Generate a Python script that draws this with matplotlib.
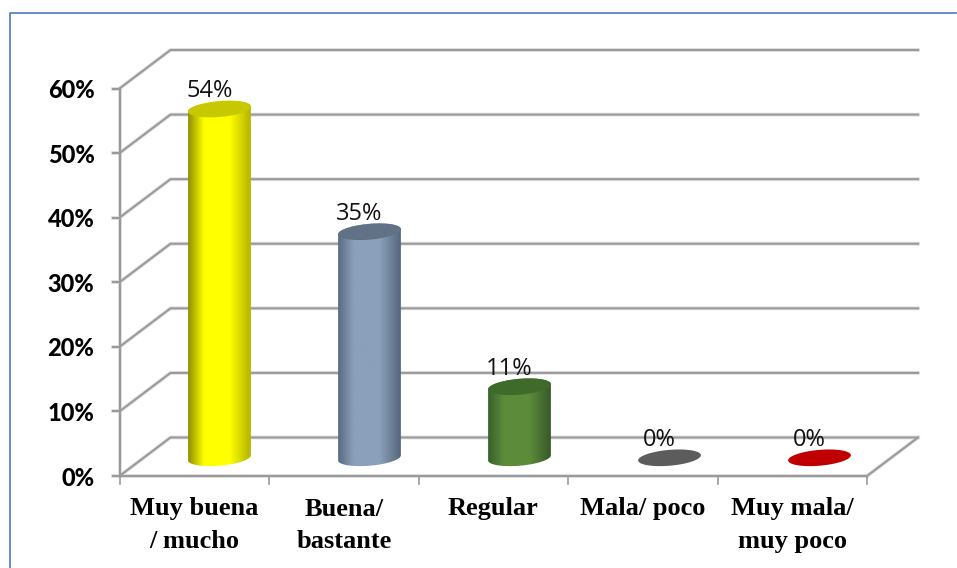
import numpy as np
import matplotlib
matplotlib.use("Agg")
import matplotlib.pyplot as plt
from matplotlib.colors import LinearSegmentedColormap
from matplotlib.lines import Line2D
from matplotlib.patches import Polygon

categories = ["Muy buena\n/ mucho", "Buena/\nbastante", "Regular", "Mala/ poco", "Muy mala/\nmuy poco"]
values = [54, 35, 11, 0, 0]
value_labels = ["54%", "35%", "11%", "0%", "0%"]
y_ticks = [0, 10, 20, 30, 40, 50, 60]
body_colors = [
    ("#8f8f00", "#ffff00", "#b4b400"),
    ("#5a6b80", "#8ba0ba", "#56677c"),
    ("#38602a", "#5c8c3a", "#36592a"),
    ("#505050", "#606060", "#505050"),
    ("#a00000", "#c00000", "#a00000"),
]
top_colors = ["#c8c800", "#627286", "#3f6b2a", "#5c5c5c", "#c00000"]

W, H = 957, 568
GRID = "#9a9a9a"
GRID_SOFT = "#e2e2e2"

fig = plt.figure(figsize=(W / 100, H / 100), dpi=100)
fig.patch.set_facecolor("white")

# The axes cover the front plane of the 3D box: categories across, percent up.
left, right, bottom, top = 119.5, 867.0, 476.0, 88.5
ax = fig.add_axes([left / W, 1 - bottom / H, (right - left) / W, (bottom - top) / H])
ax.set_xlim(0, 5)
ax.set_ylim(0, 60)
ax.axis("off")

px_x = 5 / (right - left)
px_y = 60 / (bottom - top)
depth_x, depth_y = 51 * px_x, 38.5 * px_y


def line(xs, ys):
    # A pale halo under each rule gives the soft edge of the 3D walls
    ax.add_line(Line2D(xs, ys, color=GRID_SOFT, lw=2.8, clip_on=False, zorder=1))
    ax.add_line(Line2D(xs, ys, color=GRID, lw=1.5, clip_on=False, zorder=2,
                       solid_capstyle="projecting"))


# Walls and floor
for t in y_ticks:
    line([0, depth_x, 5 + depth_x], [t, t + depth_y, t + depth_y])
    line([-7 * px_x, 0], [t, t])
line([0, 0], [0, 60])
line([0, 5], [0, 0])
line([5, 5 + depth_x], [0, depth_y])
for i in range(6):
    ax.add_line(Line2D([i, i], [0, -8 * px_y], color=GRID, lw=1.2, clip_on=False, zorder=2))

# Bar cylinders, tilted ellipses at base and top
semi_major, semi_minor, tilt = 31.5, 7.9, np.radians(5)
spacing = 150 * px_x
first_x = 100 * px_x
base_y = 18.2 * px_y


def ellipse(cx, cy, start, stop, n=80):
    t = np.linspace(start, stop, n)
    ex = semi_major * np.cos(t) * np.cos(tilt) - semi_minor * np.sin(t) * np.sin(tilt)
    ey = semi_major * np.cos(t) * np.sin(tilt) + semi_minor * np.sin(t) * np.cos(tilt)
    return cx + ex * px_x, cy + ey * px_y


for i, (v, label) in enumerate(zip(values, value_labels)):
    cx = first_x + i * spacing
    h = base_y + v
    if v > 0:
        # Body outline: the top arc is hidden under the cap, the front follows the base ellipse
        bx, by = ellipse(cx, base_y, np.pi, 2 * np.pi)
        tx, ty = ellipse(cx, h, 0, np.pi)
        outline = np.column_stack([np.r_[bx, tx], np.r_[by, ty]])
        clip = Polygon(outline, closed=True, transform=ax.transData, facecolor="none", edgecolor="none")
        ax.add_patch(clip)
        dark_l, mid, dark_r = body_colors[i]
        cmap = LinearSegmentedColormap.from_list(
            f"cyl{i}", [(0, dark_l), (0.25, mid), (0.66, mid), (1, dark_r)]
        )
        half = semi_major * px_x
        img = ax.imshow(
            np.linspace(0, 1, 128)[None, :], cmap=cmap, aspect="auto",
            extent=[cx - half, cx + half, base_y - 2, h + 2], zorder=3,
        )
        img.set_clip_path(clip)
    cap_x, cap_y = ellipse(cx, h, 0, 2 * np.pi)
    ax.fill(cap_x, cap_y, color=top_colors[i], lw=0, zorder=4, clip_on=False)
    ax.text(cx - 10 * px_x, h + 11.8 * px_y, label,
            ha="center", va="baseline", fontsize=17, family="Open Sans",
            color="#111111", zorder=5, clip_on=False)

ax.set_xlim(0, 5)
ax.set_ylim(0, 60)

# Percent tick labels on the left
for t in y_ticks:
    ax.text(-25 * px_x, t - 2 * px_y, f"{t}%", ha="right", va="center", fontsize=17,
            family="Lato", weight="black", color="black", clip_on=False)

# Category labels under the axis
for i, name in enumerate(categories):
    ax.text(i + 0.5, -21.5 * px_y, name, ha="center", va="top", fontsize=19,
            family="Liberation Serif", weight="bold", color="black",
            linespacing=1.52, clip_on=False)

# Blue frame around the chart area
fig.add_artist(Line2D([9.5 / W, 9.5 / W, 956 / W], [0, 1 - 12.7 / H, 1 - 12.7 / H],
                      color="#4a78c8", lw=1.2, transform=fig.transFigure))

fig.savefig("out.png", dpi=100)
